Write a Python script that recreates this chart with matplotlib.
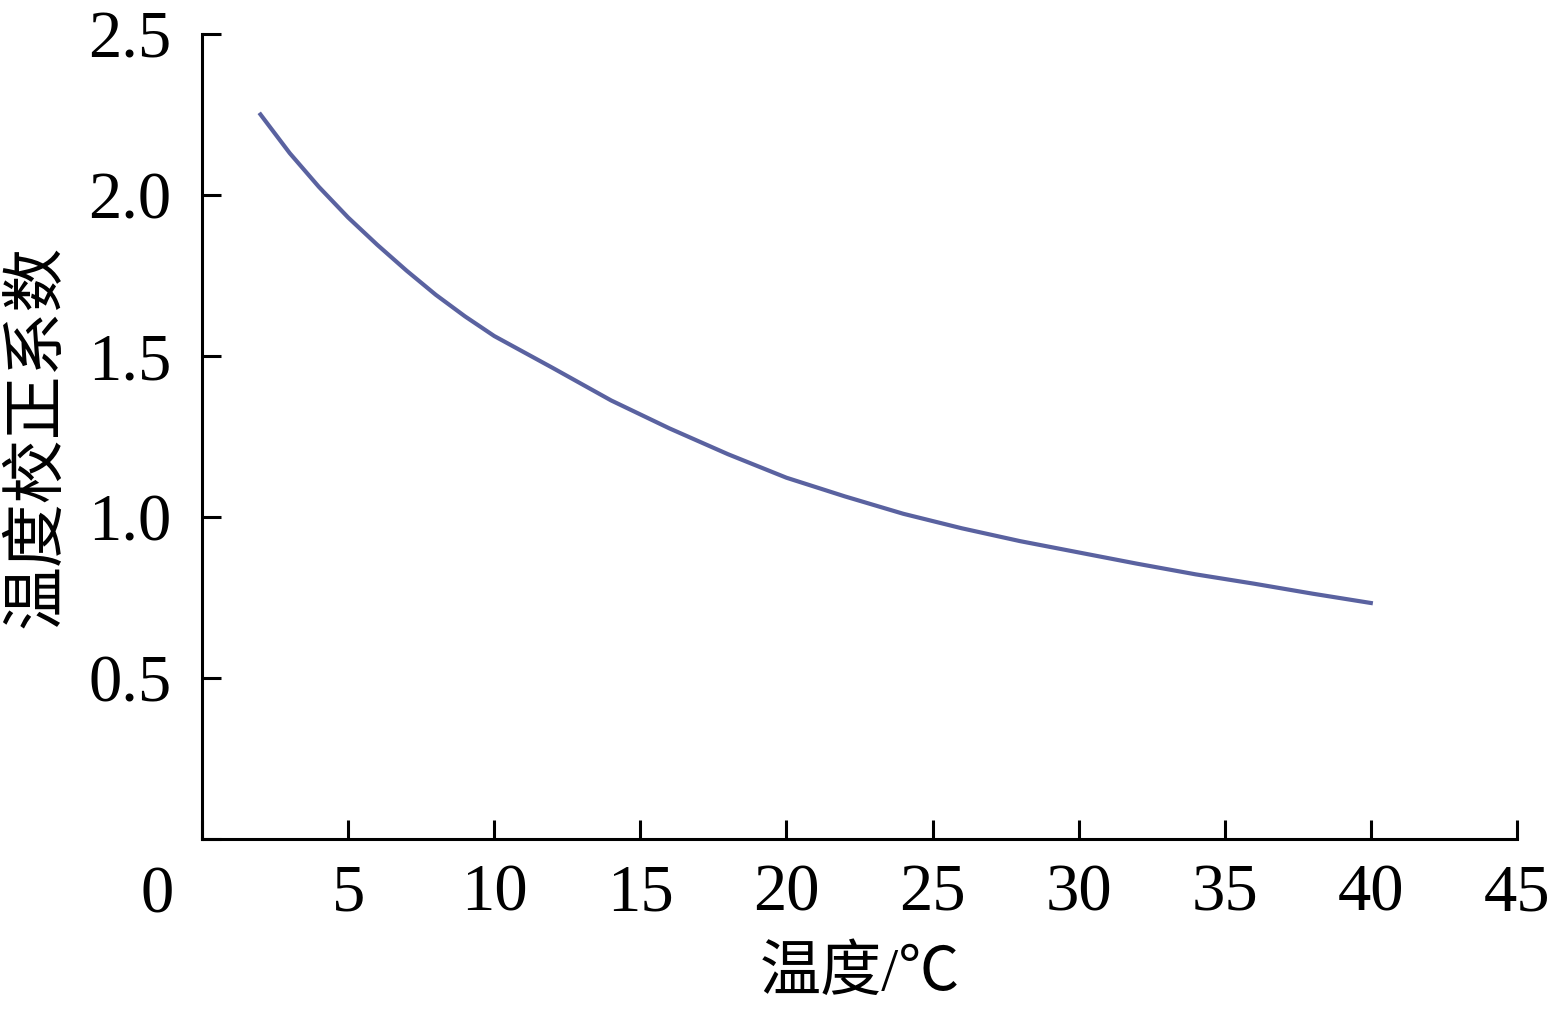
import matplotlib
matplotlib.use("Agg")
import matplotlib.pyplot as plt

# valores
temperatura = [2, 3, 4, 5, 6, 7, 8, 9, 10, 12, 14, 16, 18, 20, 22, 24, 26, 28, 30, 32, 34, 36, 38, 40]
coef = [2.25, 2.13, 2.025, 1.93, 1.845, 1.765, 1.69, 1.623, 1.562, 1.463, 1.362, 1.275, 1.195,
        1.122, 1.064, 1.01, 0.965, 0.925, 0.89, 0.855, 0.822, 0.793, 0.762, 0.733]
xticks = [0, 5, 10, 15, 20, 25, 30, 35, 40, 45]
yticks = [0, 0.5, 1.0, 1.5, 2.0, 2.5]

plt.rcParams['font.family'] = ['Liberation Serif', 'Noto Sans CJK SC', 'DejaVu Sans']

fig = plt.figure(figsize=(15.59, 10.17), dpi=100)
ax = fig.add_axes([0.1296, 0.175, 0.973 - 0.1296, 0.9666 - 0.175])

ax.plot(temperatura, coef, color='#5a62a0', lw=3.0, solid_joinstyle='round')

ax.set_xlim(0, 45)
ax.set_ylim(0, 2.5)
ax.set_xticks(xticks)
ax.set_xticklabels([''] + [str(t) for t in xticks[1:]])
ax.set_yticks(yticks)
ax.set_yticklabels([''] + [f"{v:.1f}" for v in yticks[1:]])

for s in ['top', 'right']:
    ax.spines[s].set_visible(False)
for s in ['left', 'bottom']:
    ax.spines[s].set_linewidth(2.2)
    ax.spines[s].set_capstyle('projecting')

ax.tick_params(axis='both', direction='in', length=14, width=2.2, labelsize=48)
ax.tick_params(axis='x', pad=17.5)
ax.tick_params(axis='y', pad=22)

# rótulo "0" deslocado para a esquerda, como no original
ax.annotate('0', xy=(0, 0), xytext=(-32, -41), textcoords='offset points',
            ha='center', va='center', fontsize=48, annotation_clip=False)

ax.set_xlabel('温度/℃', fontsize=44, labelpad=16)
ax.set_ylabel('温度校正系数', fontsize=46, labelpad=14)

fig.savefig('out.png', dpi=100, facecolor='white')
plt.close(fig)
